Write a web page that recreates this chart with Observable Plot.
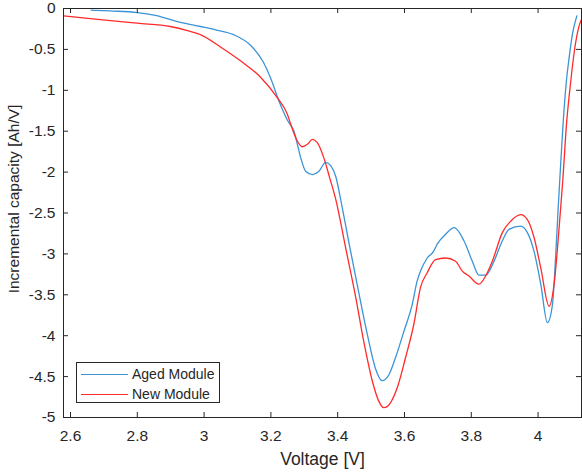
<!DOCTYPE html>
<html>
<head>
<meta charset="utf-8">
<script src="https://cdn.jsdelivr.net/npm/d3@7"></script>
<script src="https://cdn.jsdelivr.net/npm/@observablehq/plot@0.6"></script>
<style>
  html, body { margin: 0; padding: 0; background: #fff; }
  #wrap { position: relative; width: 582px; height: 475px; font-family: Arial, "Liberation Sans", Helvetica, sans-serif; }
  #legend { position: absolute; left: 76px; top: 362px; width: 144px; height: 41px; border: 1px solid #262626; background: #fff; box-sizing: border-box; }
  #legend .row { position: absolute; left: 4px; height: 20px; display: flex; align-items: center; font-size: 14px; color: #262626; }
  #legend .sw { width: 47px; height: 0; margin-right: 4px; }
</style>
</head>
<body>
<div id="wrap"></div>
<script>
// Series: Aged module
const agedV  = [2.662, 2.719, 2.800, 2.854, 2.929, 2.989, 3.034, 3.088, 3.139, 3.178, 3.199, 3.224, 3.250, 3.269, 3.289, 3.304, 3.324, 3.344, 3.364, 3.379, 3.394, 3.412, 3.433, 3.463, 3.489, 3.513, 3.533, 3.553, 3.573, 3.598, 3.623, 3.638, 3.648, 3.668, 3.687, 3.698, 3.723, 3.749, 3.778, 3.803, 3.823, 3.843, 3.868, 3.893, 3.913, 3.948, 3.968, 3.988, 4.008, 4.028, 4.043, 4.053, 4.060, 4.067, 4.075, 4.084, 4.093, 4.103, 4.116];
const agedIC = [-0.02, -0.03, -0.05, -0.085, -0.17, -0.22, -0.26, -0.32, -0.45, -0.66, -0.85, -1.13, -1.37, -1.50, -1.82, -1.99, -2.03, -1.99, -1.88, -1.92, -2.05, -2.40, -2.85, -3.47, -3.99, -4.40, -4.55, -4.48, -4.27, -3.95, -3.62, -3.33, -3.21, -3.05, -2.97, -2.88, -2.76, -2.68, -2.84, -3.09, -3.26, -3.26, -3.09, -2.84, -2.70, -2.66, -2.74, -2.97, -3.37, -3.84, -3.62, -3.00, -2.45, -1.95, -1.40, -0.92, -0.60, -0.31, -0.09];
// Series: New module
const newV   = [2.579, 2.689, 2.800, 2.899, 2.950, 2.989, 3.049, 3.109, 3.169, 3.219, 3.249, 3.259, 3.279, 3.294, 3.309, 3.324, 3.339, 3.358, 3.376, 3.394, 3.424, 3.454, 3.478, 3.504, 3.523, 3.538, 3.558, 3.578, 3.603, 3.628, 3.648, 3.668, 3.693, 3.723, 3.753, 3.773, 3.793, 3.823, 3.843, 3.863, 3.893, 3.918, 3.948, 3.968, 3.988, 4.008, 4.033, 4.048, 4.063, 4.074, 4.085, 4.097, 4.109, 4.123, 4.133];
const newIC  = [-0.09, -0.135, -0.18, -0.22, -0.27, -0.32, -0.47, -0.64, -0.84, -1.09, -1.29, -1.41, -1.62, -1.69, -1.66, -1.60, -1.64, -1.82, -2.07, -2.33, -2.93, -3.53, -4.07, -4.56, -4.80, -4.88, -4.82, -4.64, -4.27, -3.86, -3.41, -3.23, -3.07, -3.05, -3.09, -3.21, -3.27, -3.37, -3.27, -3.09, -2.74, -2.60, -2.52, -2.58, -2.80, -3.17, -3.64, -3.37, -2.68, -2.10, -1.42, -0.92, -0.51, -0.21, -0.11];
// Ticks and labels
const xTicks = [2.6, 2.8, 3, 3.2, 3.4, 3.6, 3.8, 4];
const yTicks = [0, -0.5, -1, -1.5, -2, -2.5, -3, -3.5, -4, -4.5, -5];
const seriesNames = ["Aged Module", "New Module"];
const seriesColors = ["#3b94d6", "#ff2a2a"];
const xLabel = "Voltage [V]";
const yLabel = "Incremental capacity [Ah/V]";

const aged = agedV.map((v, i) => ({v, ic: agedIC[i]}));
const fresh = newV.map((v, i) => ({v, ic: newIC[i]}));

const W = 582, H = 475;
const mT = 8, mB = 58, mL = 63, mR = 1;
const innerW = W - mL - mR, innerH = H - mT - mB;
const axisColor = "#262626";
const tick = 5;

const chart = Plot.plot({
  width: W, height: H,
  marginTop: mT, marginBottom: mB, marginLeft: mL, marginRight: mR,
  style: {fontFamily: "Arial, 'Liberation Sans', Helvetica, sans-serif", background: "#fff", color: axisColor},
  x: {domain: [2.579, 4.13]},
  y: {domain: [-5, 0]},
  marks: [
    Plot.line(aged, {x: "v", y: "ic", stroke: seriesColors[0], strokeWidth: 1.3, curve: "monotone-x", clip: true}),
    Plot.line(fresh, {x: "v", y: "ic", stroke: seriesColors[1], strokeWidth: 1.3, curve: "monotone-x", clip: true}),
    Plot.frame({stroke: axisColor, strokeWidth: 1}),
    Plot.ruleX(xTicks, {x: d => d, insetTop: innerH - tick, stroke: axisColor}),
    Plot.ruleX(xTicks, {x: d => d, insetBottom: innerH - tick, stroke: axisColor}),
    Plot.ruleY(yTicks, {y: d => d, insetRight: innerW - tick, stroke: axisColor}),
    Plot.ruleY(yTicks, {y: d => d, insetLeft: innerW - tick, stroke: axisColor}),
    Plot.axisX(xTicks, {tickSize: 0, tickPadding: 12, tickFormat: d => String(d), fontSize: 15.5, label: null, color: axisColor}),
    Plot.axisY(yTicks, {tickSize: 0, tickPadding: 8, tickFormat: d => String(d), fontSize: 15.5, label: null, color: axisColor}),
    Plot.text([xLabel], {frameAnchor: "bottom", text: d => d, dy: 42, fontSize: 17.5, fill: axisColor, lineAnchor: "middle", textAnchor: "middle"}),
    Plot.text([yLabel], {frameAnchor: "left", text: d => d, dx: -49, dy: -14, rotate: -90, fontSize: 15.5, fill: axisColor, lineAnchor: "middle", textAnchor: "middle"})
  ]
});

const wrap = document.getElementById("wrap");
wrap.appendChild(chart);
chart.style.position = "absolute";
chart.style.left = "0"; chart.style.top = "0";

const legend = document.createElement("div");
legend.id = "legend";
seriesNames.forEach((name, i) => {
  const row = document.createElement("div");
  row.className = "row";
  row.style.top = (i === 0 ? 1 : 21) + "px";
  const sw = document.createElement("div");
  sw.className = "sw";
  sw.style.borderTop = "1.5px solid " + seriesColors[i];
  const t = document.createElement("span");
  t.textContent = name;
  row.appendChild(sw); row.appendChild(t);
  legend.appendChild(row);
});
wrap.appendChild(legend);
</script>
</body>
</html>
